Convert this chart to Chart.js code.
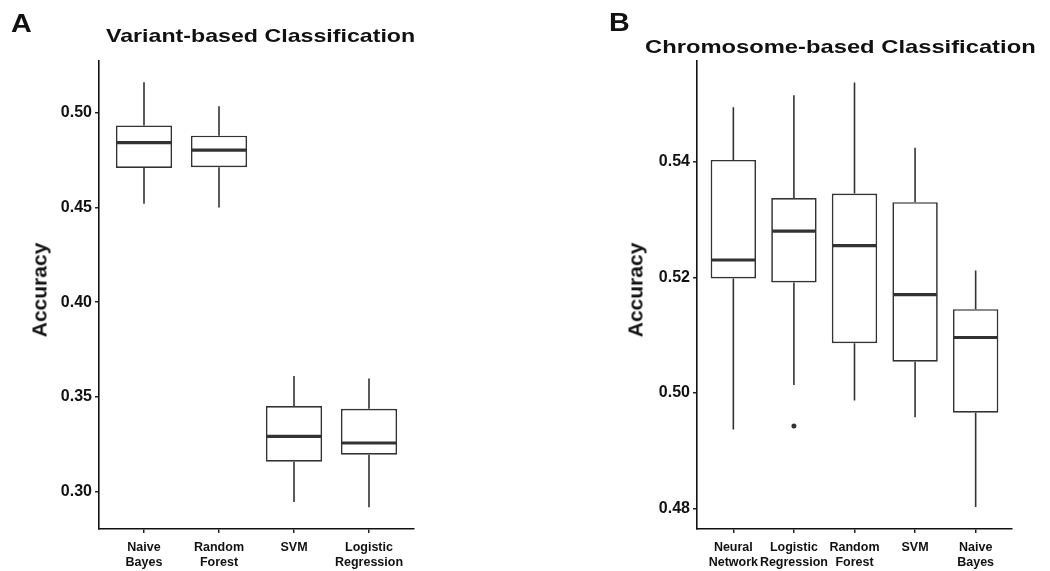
<!DOCTYPE html>
<html lang="en">
<head>
<meta charset="UTF-8">
<title>Classification accuracy</title>
<script src="https://cdn.jsdelivr.net/npm/chart.js"></script>
<style>
  body { margin: 0; background: #fff; font-family: "Liberation Sans", Arial, Helvetica, sans-serif; }
  #wrap { position: relative; width: 1050px; height: 571px; overflow: hidden; }
  canvas { position: absolute; top: 0; }
  .txt { position: absolute; font-weight: bold; color: #111; line-height: 1; white-space: nowrap; transform-origin: 0 0; }
  .ytitle { position: absolute; font-weight: bold; color: #111; font-size: 21px; line-height: 1; white-space: nowrap; transform: translate(-50%, -50%) rotate(-90deg); }
</style>
</head>
<body>
<div id="wrap">
  <canvas id="chartA" width="525" height="571" style="left:0"></canvas>
  <canvas id="chartB" width="525" height="571" style="left:525px"></canvas>

  <div class="txt" style="left:11px; top:11px; font-size:25px; transform:scaleX(1.15)">A</div>
  <div class="txt" style="left:106px; top:26px; font-size:19px; transform:scaleX(1.22)">Variant-based Classification</div>
  <div class="ytitle" style="left:39px; top:290px">Accuracy</div>

  <div class="txt" style="left:609px; top:10px; font-size:25px; transform:scaleX(1.15)">B</div>
  <div class="txt" style="left:645px; top:37px; font-size:19px; transform:scaleX(1.25)">Chromosome-based Classification</div>
  <div class="ytitle" style="left:635px; top:290px">Accuracy</div>
</div>

<script>
// panel A: variant-based
const catsA = [['Naive', 'Bayes'], ['Random', 'Forest'], ['SVM'], ['Logistic', 'Regression']];
const loA  = [0.4520, 0.4500, 0.2946, 0.2918];
const q1A  = [0.4708, 0.4712, 0.3158, 0.3195];
const medA = [0.4842, 0.4803, 0.3292, 0.3257];
const q3A  = [0.4933, 0.4879, 0.3452, 0.3437];
const hiA  = [0.5161, 0.5034, 0.3611, 0.3597];
const outA = [null, null, null, null];
const ticksA = [0.30, 0.35, 0.40, 0.45, 0.50];

// panel B: chromosome-based
const catsB = [['Neural', 'Network'], ['Logistic', 'Regression'], ['Random', 'Forest'], ['SVM'], ['Naive', 'Bayes']];
const loB  = [0.4937, 0.5014, 0.4987, 0.4958, 0.4803];
const q1B  = [0.5198, 0.5191, 0.5086, 0.5054, 0.4966];
const medB = [0.5230, 0.5280, 0.5255, 0.5170, 0.5096];
const q3B  = [0.5403, 0.5337, 0.5345, 0.5330, 0.5145];
const hiB  = [0.5494, 0.5515, 0.5537, 0.5424, 0.5212];
const outB = [null, 0.4943, null, null, null];
const ticksB = [0.48, 0.50, 0.52, 0.54];

const INK = '#333333';
const FONT = '"Liberation Sans", Arial, Helvetica, sans-serif';

// whiskers + median lines, drawn on top of the floating bars
const boxPlugin = {
  id: 'boxExtras',
  afterDatasetsDraw(chart, args, opts) {
    const { ctx, scales: { x, y } } = chart;
    const bars = chart.getDatasetMeta(0).data;
    ctx.save();
    ctx.strokeStyle = INK;
    ctx.lineCap = 'butt';
    opts.med.forEach((m, i) => {
      const cx = x.getPixelForValue(i);
      const half = bars[i].width / 2;
      ctx.lineWidth = 1.6;
      ctx.beginPath();
      ctx.moveTo(cx, y.getPixelForValue(opts.lo[i]));
      ctx.lineTo(cx, y.getPixelForValue(opts.q1[i]));
      ctx.moveTo(cx, y.getPixelForValue(opts.q3[i]));
      ctx.lineTo(cx, y.getPixelForValue(opts.hi[i]));
      ctx.stroke();
      ctx.lineWidth = 3.2;
      ctx.beginPath();
      ctx.moveTo(cx - half + 1, y.getPixelForValue(m));
      ctx.lineTo(cx + half - 1, y.getPixelForValue(m));
      ctx.stroke();
    });
    ctx.restore();
  }
};

function makeBox(id, cats, lo, q1, med, q3, hi, out, ticks, yMin, yMax, yWidth, padRight) {
  const n = cats.length;
  new Chart(document.getElementById(id), {
    type: 'bar',
    data: {
      datasets: [{
        data: cats.map((c, i) => ({ x: i, y: [q1[i], q3[i]] })),
        backgroundColor: '#ffffff',
        borderColor: INK,
        borderWidth: 1.7,
        borderSkipped: false,
        barPercentage: 0.75,
        categoryPercentage: 1
      }, {
        type: 'scatter',
        data: out.map((v, i) => ({ x: i, y: v })).filter(p => p.y !== null),
        pointRadius: 2.5,
        pointBackgroundColor: INK,
        pointBorderWidth: 0
      }]
    },
    options: {
      responsive: false,
      animation: false,
      layout: { padding: { top: 61, right: padRight, left: 0, bottom: 0 } },
      plugins: {
        legend: { display: false },
        tooltip: { enabled: false },
        boxExtras: { lo, q1, med, q3, hi }
      },
      scales: {
        x: {
          type: 'linear',
          offset: false,
          min: -0.6,
          max: n - 0.4,
          afterBuildTicks: s => { s.ticks = cats.map((c, i) => ({ value: i })); },
          afterFit: s => { s.height = 42; },
          grid: { offset: false, drawOnChartArea: false, drawTicks: true, tickLength: 4, color: '#222', lineWidth: 1.5 },
          border: { display: true, color: '#111', width: 1.6 },
          ticks: {
            autoSkip: false, maxRotation: 0, padding: 7, color: '#111',
            font: { family: FONT, size: 12.5, weight: 'bold', lineHeight: 1.2 },
            callback: v => cats[v]
          }
        },
        y: {
          min: yMin,
          max: yMax,
          afterBuildTicks: s => { s.ticks = ticks.map(v => ({ value: v })); },
          afterFit: s => { s.width = yWidth; },
          grid: { drawOnChartArea: false, drawTicks: true, tickLength: 4, color: '#222', lineWidth: 1.5 },
          border: { display: true, color: '#111', width: 1.6 },
          ticks: {
            padding: 3, color: '#111',
            font: { family: FONT, size: 16, weight: 'bold' },
            callback: v => v.toFixed(2)
          }
        }
      }
    },
    plugins: [boxPlugin]
  });
}

makeBox('chartA', catsA, loA, q1A, medA, q3A, hiA, outA, ticksA, 0.2803, 0.5273, 99, 111);
makeBox('chartB', catsB, loB, q1B, medB, q3B, hiB, outB, ticksB, 0.4765, 0.5574, 172, 38);
</script>
</body>
</html>
